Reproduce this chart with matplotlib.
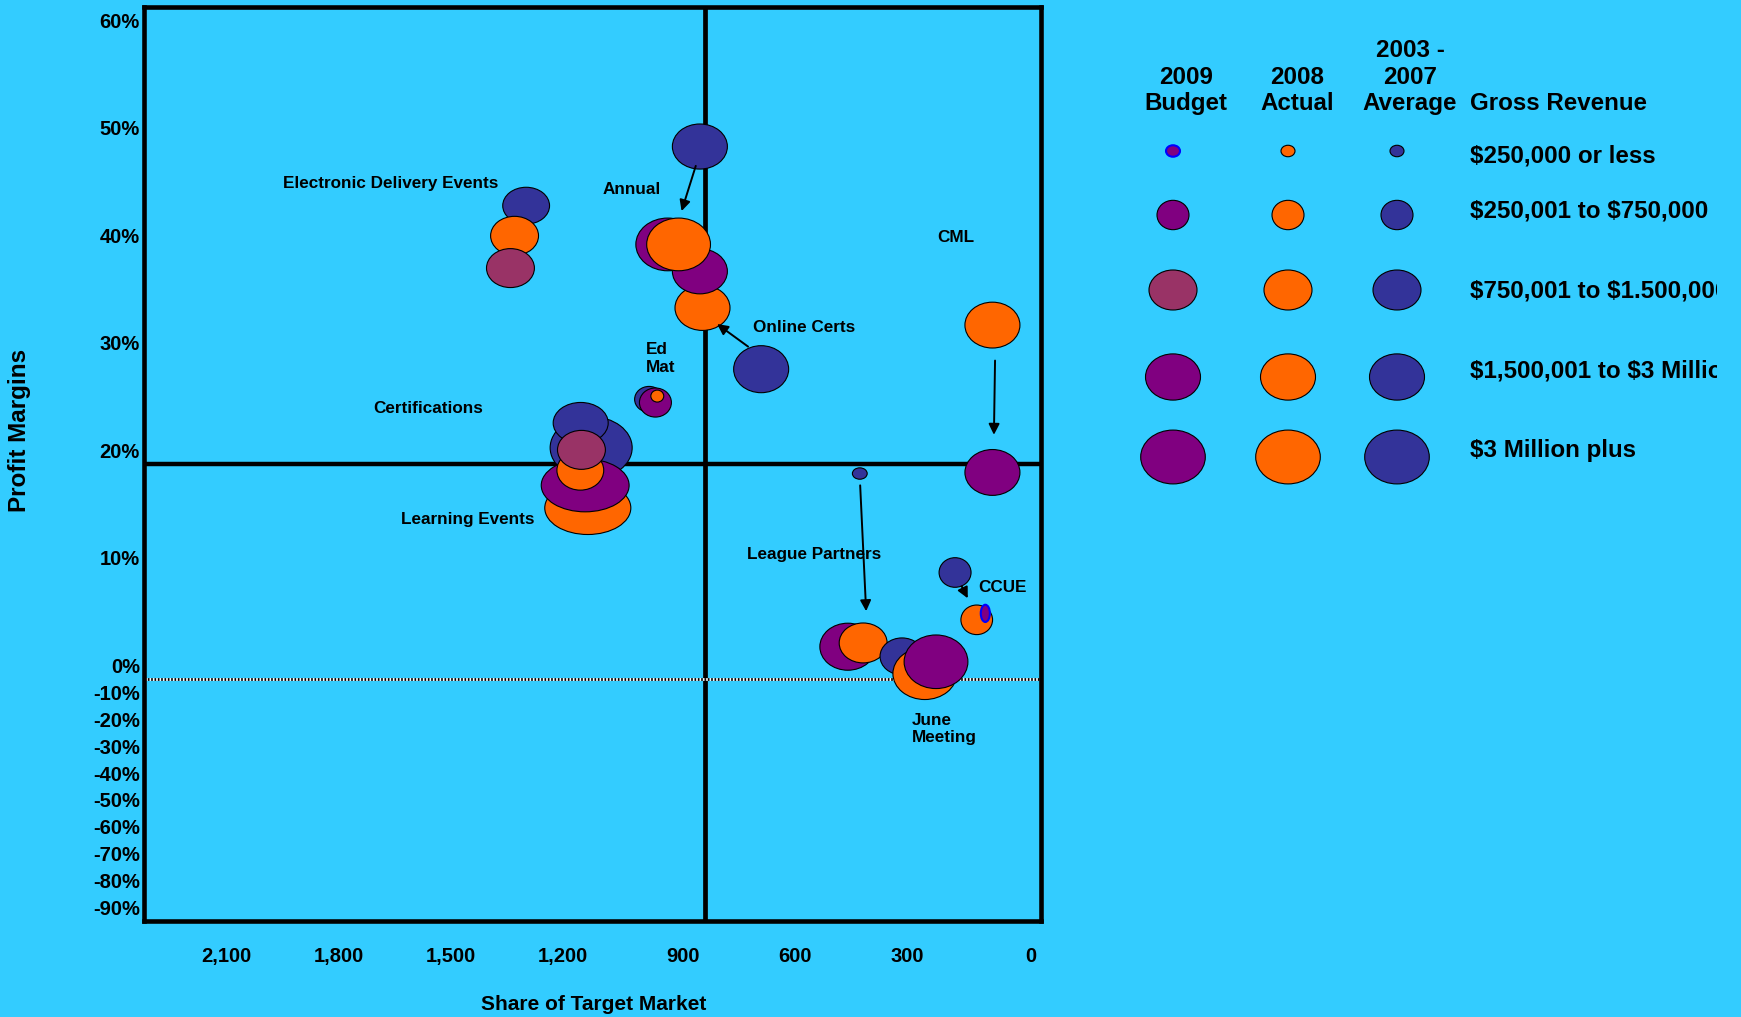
import numpy as np
import matplotlib.pyplot as plt
from matplotlib.collections import EllipseCollection
from matplotlib.transforms import ScaledTranslation

plt.rcParams['font.family'] = ['Liberation Sans', 'DejaVu Sans']
plt.rcParams['font.weight'] = 'bold'

BG = '#33CCFF'
fill = {'budget': '#800080', 'budget_mid': '#993366', 'budget_small': '#800080',
        'actual': '#FF6600', 'average': '#333399'}
edge = {'budget_small': '#0000FF'}

# bubbles, listed in drawing order (later ones sit on top)
group = ['Electronic', 'Electronic', 'Electronic',
         'Annual', 'Annual', 'Annual', 'Annual', 'Annual',
         'Online Certs', 'CML', 'CML',
         'Ed Mat', 'Ed Mat', 'Ed Mat',
         'Learning', 'Learning', 'Certifications', 'Learning', 'Certifications', 'Certifications',
         'League', 'League', 'League',
         'June', 'June', 'June',
         'CCUE', 'CCUE', 'CCUE']
series = ['average', 'actual', 'budget_mid',
          'average', 'actual', 'budget', 'budget', 'actual',
          'average', 'actual', 'budget',
          'average', 'budget', 'actual',
          'actual', 'average', 'average', 'budget', 'actual', 'budget_mid',
          'average', 'budget', 'actual',
          'average', 'actual', 'budget',
          'average', 'actual', 'budget_small']
share = [1378, 1409, 1420,
         913, 906, 913, 999, 970,
         749, 130, 130,
         1049, 1032, 1027,
         1213, 1204, 1232, 1220, 1233, 1230,
         485, 517, 476,
         372, 311, 281,
         230, 172, 149]
margin = [44.0, 41.2, 38.2,
          49.5, 34.5, 37.9, 40.4, 40.4,
          28.8, 32.9, 19.2,
          26.0, 25.7, 26.3,
          15.9, 21.5, 23.8, 18.0, 19.4, 21.3,
          19.1, 3.0, 3.35,
          2.1, 0.5, 1.6,
          9.9, 5.5, 6.1]
revenue = [2100, 2200, 2200,
           2900, 2900, 2900, 3900, 3900,
           2900, 2900, 2900,
           800, 980, 160,
           7100, 6450, 2900, 7400, 2100, 2200,
           210, 3000, 2200,
           1850, 3900, 3900,
           980, 960, 80]
stretch = [1.27, 1.23, 1.23,
           1.22, 1.22, 1.22, 1.21, 1.21,
           1.17, 1.2, 1.2,
           1.12, 1.1, 1.08,
           1.62, 1.32, 1.34, 1.66, 1.18, 1.23,
           1.3, 1.19, 1.2,
           1.19, 1.23, 1.19,
           1.08, 1.07, 0.53]

labels = [('Electronic Delivery Events', 1740, 46.1), ('Annual', 1095, 45.5),
          ('CML', 229, 41.0), ('Online Certs', 635, 32.7),
          ('Certifications', 1641, 25.1), ('Learning Events', 1535, 14.8),
          ('League Partners', 608, 11.6), ('CCUE', 104, 8.5)]
left_labels = [('Ed\nMat', 1058, 29.8), ('June\nMeeting', 345, -18.6)]
arrows = [((924, 47.7), (962, 43.5)), ((784, 30.9), (867, 33.0)),
          ((123, 29.6), (126, 22.7)), ((484, 18.0), (468, 6.3)),
          ((212, 8.6), (196, 7.5))]

xticks = [2100, 1800, 1500, 1200, 900, 600, 300, 0]
yticks = [60, 50, 40, 30, 20, 10, 0, -10, -20, -30, -40, -50, -60, -70, -80, -90]

legend_cols = ['2009\nBudget', '2008\nActual', '2003 -\n2007\nAverage']
legend_keys = ['budget', 'actual', 'average']
legend_rows = ['$250,000 or less', '$250,001 to $750,000', '$750,001 to $1.500,000',
               '$1,500,001 to $3 Million', '$3 Million plus']


def fwd(y):
    y = np.asarray(y, dtype=float)
    return np.where(y >= 0, y, y * 0.25)


def inv(t):
    t = np.asarray(t, dtype=float)
    return np.where(t >= 0, t, t * 4)


W, H = 1741, 1017
fig = plt.figure(figsize=(W / 100, H / 100), dpi=100, facecolor=BG)
ax = fig.add_axes([144.3 / W, 1 - 921 / H, (1041 - 144.3) / W, (921 - 6.7) / H])
ax.set_facecolor(BG)
ax.set_yscale('function', functions=(fwd, inv))
ax.set_xlim(2400, 0)
ax.set_ylim(-90, 62.5)
for s in ax.spines.values():
    s.set_linewidth(3.3)

ax.axvline(900, color='k', lw=3.4, zorder=1)
ax.axhline(20, color='k', lw=3.2, zorder=1)
ax.axhline(0, color='white', lw=2, zorder=1)
ax.axhline(0, color='k', lw=2, dashes=(0.6, 0.6), zorder=1)

# bubbles
diam = 64.6 * np.sqrt(np.array(revenue) / 4000)
hgt = diam / np.array(stretch)
fc = [fill[k] for k in series]
ecs = [edge.get(k, 'k') for k in series]
lws = [1.5 if k in edge else 0.8 for k in series]
bubbles = EllipseCollection(diam, hgt, np.zeros(len(diam)), units='dots',
                            offsets=np.column_stack([share, margin]),
                            offset_transform=ax.transData,
                            facecolors=fc, edgecolors=ecs, linewidths=lws, zorder=3)
ax.add_collection(bubbles, autolim=False)

for txt, x, y in labels:
    ax.text(x, y, txt, ha='center', va='center', fontsize=12.3, zorder=5)
for txt, x, y in left_labels:
    ax.text(x, y, txt, ha='left', va='center', fontsize=12.3, linespacing=1.2, zorder=5)
for tail, head in arrows:
    ax.annotate('', xy=head, xytext=tail,
                arrowprops=dict(arrowstyle='-|>', color='k', lw=1.4,
                                mutation_scale=16, shrinkA=0, shrinkB=0), zorder=4)

ax.set_xticks(xticks, [f"{v:,}" for v in xticks])
ax.set_yticks(yticks, [f"{v}%" for v in yticks])
ax.minorticks_off()
ax.tick_params(length=0, labelsize=14.5)
ax.tick_params(axis='x', pad=25.5)
ax.tick_params(axis='y', pad=3.2)
for lbl in ax.get_xticklabels():
    lbl.set_ha('right')
    lbl.set_va('center')
    lbl.set_transform(lbl.get_transform() + ScaledTranslation(-0.046, 0, fig.dpi_scale_trans))
for lbl in ax.get_yticklabels():
    lbl.set_va('center')
    lbl.set_transform(lbl.get_transform() + ScaledTranslation(0, 0.115, fig.dpi_scale_trans))

fig.text(593.5 / W, 1 - 1005 / H, 'Share of Target Market', ha='center', va='center',
         fontsize=15)
fig.text(20 / W, 1 - 430 / H, 'Profit Margins', ha='center', va='center',
         rotation=90, fontsize=17.5)

# legend, drawn in its own pixel-unit axes so that long entries get cut at the edge
lax = fig.add_axes([1100 / W, 1 - 500 / H, 617 / W, 500 / H])
lax.set_xlim(1100, 1717)
lax.set_ylim(500, 0)
lax.axis('off')
col_x = [1173, 1288, 1397]
head_x = [1186, 1297, 1410]
row_y = [151, 215, 290, 377, 457]
key_w = [14, 32, 48, 55, 64.6]
key_aspect = [1.22, 1.09, 1.2, 1.19, 1.2]
for j, (head, key) in enumerate(zip(legend_cols, legend_keys)):
    lines = head.split('\n')
    for k, line in enumerate(lines):
        lax.text(head_x[j], 110.4 - 26.7 * (len(lines) - 1 - k), line, ha='center',
                 va='baseline', fontsize=17.4)
    kinds = [key] * 5
    if key == 'budget':
        kinds[0] = 'budget_small'
        kinds[2] = 'budget_mid'
    lax.add_collection(EllipseCollection(
        key_w, np.array(key_w) / np.array(key_aspect), np.zeros(5), units='dots',
        offsets=np.column_stack([[col_x[j]] * 5, row_y]), offset_transform=lax.transData,
        facecolors=[fill[k] for k in kinds], edgecolors=[edge.get(k, 'k') for k in kinds],
        linewidths=[1.5 if k in edge else 0.8 for k in kinds]), autolim=False)
lax.text(1470, 110.4, 'Gross Revenue', ha='left', va='baseline', fontsize=17.4)
for i, txt in enumerate(legend_rows):
    lax.text(1470, [162.4, 217.2, 297.2, 377.2, 457.2][i], txt, ha='left', va='baseline',
             fontsize=17.4, clip_on=True, parse_math=False)

fig.savefig('out.png', dpi=100, facecolor=BG)
